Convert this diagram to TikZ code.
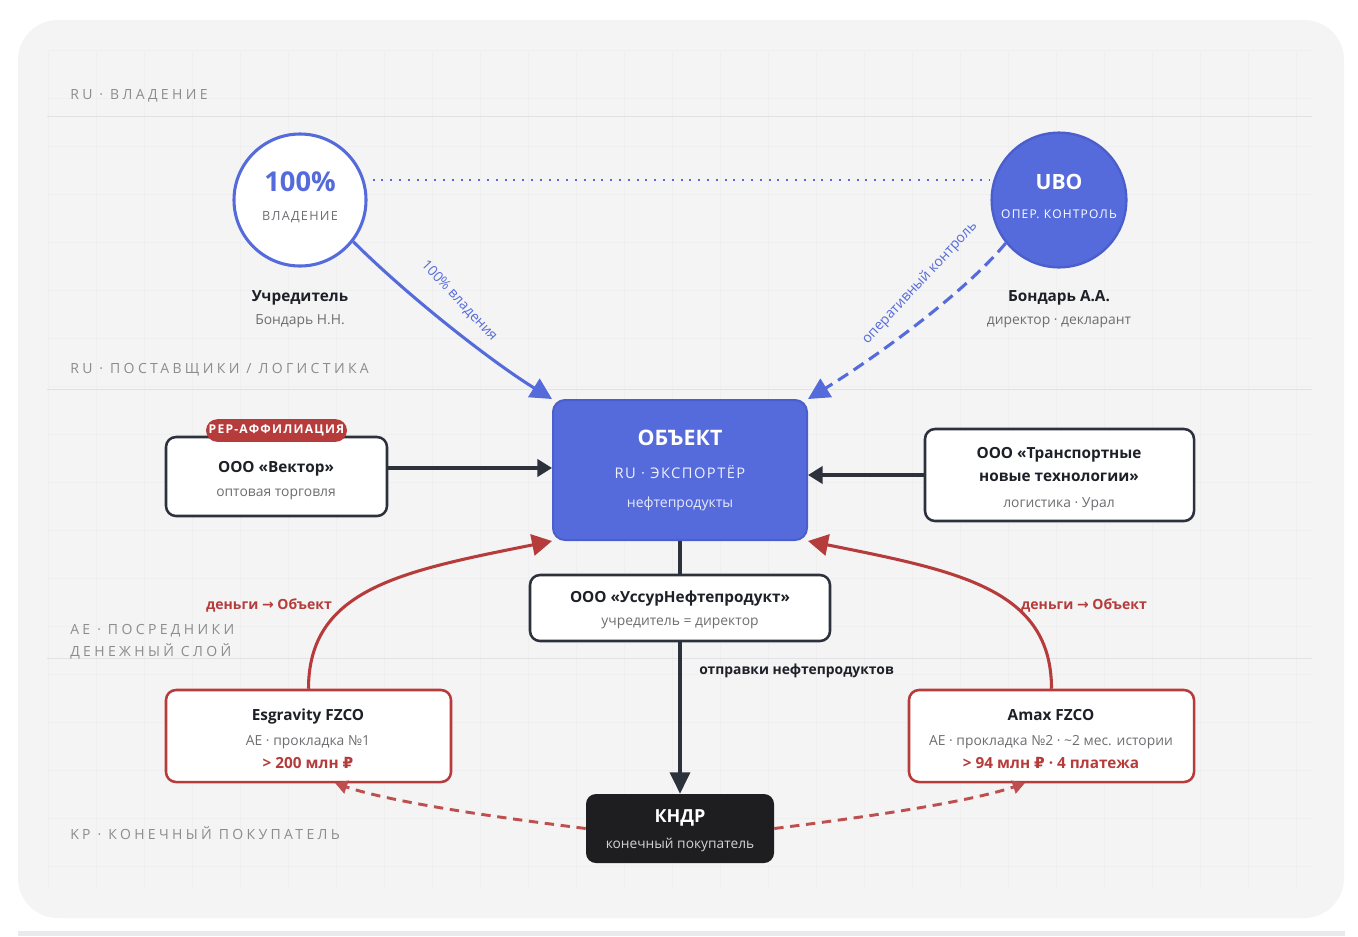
\documentclass[tikz,border=0pt]{standalone}
\usepackage{fontspec}
\setmainfont{Open Sans}
\newfontfamily\spacedfont[LetterSpace=10]{Open Sans}
\newfontfamily\lanefont[LetterSpace=24]{Open Sans}
\newfontfamily\symfont{DejaVu Sans}
\usetikzlibrary{arrows.meta,fit,positioning}

\definecolor{bgpanel}{HTML}{F4F4F4}
\definecolor{gridline}{HTML}{EFEFEF}
\definecolor{stripgray}{HTML}{EAEAEE}
\definecolor{laneline}{HTML}{E2E2E6}
\definecolor{lanetext}{HTML}{8C8C8C}
\definecolor{ownblue}{HTML}{566BDB}
\definecolor{ownblueedge}{HTML}{4A5ECC}
\definecolor{inkdark}{HTML}{1E2027}
\definecolor{edgedark}{HTML}{2C313C}
\definecolor{subgray}{HTML}{6E6E72}
\definecolor{moneyred}{HTML}{B63B3B}
\definecolor{buyerblack}{HTML}{1E1E21}

\newcommand\rub{{\symfont ₽}}

\begin{document}
\begin{tikzpicture}[
  x=0.75pt, y=-0.75pt,
  every node/.style={inner sep=0pt},
  lane/.style={font=\lanefont\fontsize{10.5}{12}\selectfont, text=lanetext, anchor=mid west},
  title/.style={font=\bfseries\fontsize{11.5}{14}\selectfont, text=inkdark, anchor=mid},
  sub/.style={font=\fontsize{10.4}{12}\selectfont, text=subgray, anchor=mid},
  plainbox/.style={draw=edgedark, fill=white, line width=1.9pt, rounded corners=7.5pt},
  moneybox/.style={draw=moneyred, fill=white, line width=1.9pt, rounded corners=7.5pt},
  ownarrow/.style={-{Triangle[length=16pt,width=16pt]}, ownblue, line width=2.3pt},
  flowarrow/.style={-{Triangle[length=11pt,width=13pt]}, edgedark, line width=2.3pt},
  moneyarrow/.style={-{Triangle[length=15pt,width=16pt]}, moneyred, line width=2.3pt},
  backarrow/.style={-{Triangle[length=9pt,width=10pt]}, moneyred!90!white, line width=2.2pt, dash pattern=on 7pt off 5pt},
]
\useasboundingbox (0,0) rectangle (1358,936);
\fill[white] (0,0) rectangle (1358,936);

% panel, faint grid and lanes
\fill[bgpanel, rounded corners=30pt] (18,20) rectangle (1344,918);
\fill[stripgray] (18,931) rectangle (1345,936);
\foreach \gx in {48,96,...,1296} \draw[gridline, line width=0.5pt] (\gx,50) -- (\gx,888);
\foreach \gy in {50,98,...,866} \draw[gridline, line width=0.5pt] (48,\gy) -- (1312,\gy);
\foreach \ly in {116,389,658} \draw[laneline, line width=0.7pt] (47,\ly) -- (1312,\ly);

\node[lane] (lane-own) at (70,96) {RU · ВЛАДЕНИЕ};
\node[lane] (lane-sup) at (70,370) {RU · ПОСТАВЩИКИ / ЛОГИСТИКА};
\node[lane] (lane-mid) at (70,631) {AE · ПОСРЕДНИКИ};
\node[lane] (lane-mid2) at (70,653) {ДЕНЕЖНЫЙ СЛОЙ};
\node[lane] (lane-buy) at (70,836) {KP · КОНЕЧНЫЙ ПОКУПАТЕЛЬ};

% owners
\node[circle, draw=ownblue, fill=white, line width=2.3pt, minimum size=99pt] (founder) at (300,200) {};
\node[font=\bfseries\fontsize{20.5}{24}\selectfont, text=ownblue, anchor=mid] (founder-pct) at (300,188) {100\%};
\node[font=\spacedfont\fontsize{9.5}{11}\selectfont, text=subgray, anchor=mid] (founder-kind) at (300,217) {ВЛАДЕНИЕ};
\node[title] (founder-t) at (300,298) {Учредитель};
\node[sub] (founder-s) at (300,321) {Бондарь Н.Н.};

\node[circle, draw=ownblueedge, fill=ownblue, line width=1.8pt, minimum size=101pt] (ubo) at (1059,200) {};
\node[font=\bfseries\fontsize{15.8}{18}\selectfont, text=white, anchor=mid] (ubo-t) at (1059,186) {UBO};
\node[font=\spacedfont\fontsize{9}{11}\selectfont, text=white, anchor=mid] (ubo-kind) at (1059,215) {ОПЕР. КОНТРОЛЬ};
\node[title] (director-t) at (1059,298) {Бондарь А.А.};
\node[sub] (director-s) at (1059,321) {директор · декларант};

% object
\node[draw=ownblueedge, fill=ownblue, line width=1.5pt, rounded corners=9pt, fit={(553,400) (807,540)}] (object) {};
\node[font=\bfseries\fontsize{16}{18}\selectfont, text=white, anchor=mid] (object-t) at (680,442) {ОБЪЕКТ};
\node[font=\spacedfont\fontsize{11}{12}\selectfont, text=white!90!ownblue, anchor=mid] (object-c) at (680,475) {RU · ЭКСПОРТЁР};
\node[font=\fontsize{10.5}{12}\selectfont, text=white!85!ownblue, anchor=mid] (object-s) at (680,504) {нефтепродукты};

% suppliers
\node[plainbox, fit={(166,437) (387,516)}] (vektor) {};
\node[title] (vektor-t) at (276,469) {ООО «Вектор»};
\node[sub] (vektor-s) at (276,493) {оптовая торговля};
\node[fill=moneyred, text=white, rounded corners=8.5pt, minimum height=17pt, inner xsep=2pt,
  font=\spacedfont\bfseries\fontsize{9.1}{10}\selectfont] (affil) at (276.5,430.5) {РЕР-АФФИЛИАЦИЯ};

\node[plainbox, fit={(925,429) (1194,521)}] (transport) {};
\node[title] (transport-t1) at (1059,455) {ООО «Транспортные};
\node[title] (transport-t2) at (1059,478) {новые технологии»};
\node[sub] (transport-s) at (1059,504) {логистика · Урал};

\node[plainbox, fit={(530,575) (830,641)}] (ussur) {};
\node[title] (ussur-t) at (680,599) {ООО «УссурНефтепродукт»};
\node[sub] (ussur-s) at (680,622) {учредитель = директор};

% intermediaries
\node[moneybox, fit={(166,690) (451,782)}] (esgravity) {};
\node[title] (esgravity-t) at (308,717) {Esgravity FZCO};
\node[sub] (esgravity-s) at (308,742) {AE · прокладка №1};
\node[title, text=moneyred] (esgravity-m) at (308,765) {> 200 млн \rub};

\node[moneybox, fit={(909,690) (1194,782)}] (amax) {};
\node[title] (amax-t) at (1051,717) {Amax FZCO};
\node[sub] (amax-s) at (1051,742) {AE · прокладка №2 · \textasciitilde 2 мес. истории};
\node[title, text=moneyred] (amax-m) at (1051,765) {> 94 млн \rub{} · 4 платежа};

% buyer
\node[fill=buyerblack, rounded corners=7.5pt, fit={(586,794) (774,863)}] (kndr) {};
\node[font=\bfseries\fontsize{13.5}{16}\selectfont, text=white, anchor=mid] (kndr-t) at (680,819) {КНДР};
\node[font=\fontsize{10.3}{12}\selectfont, text=white!80!buyerblack, anchor=mid] (kndr-s) at (680,845) {конечный покупатель};

% ownership links
\draw[ownblue, line width=1.6pt, dash pattern=on 1.6pt off 5pt] (founder.east |- 0,180) ++(5,0) coordinate (dot-a) -- (dot-a -| ubo.west);
\draw[ownarrow] (founder.-38) .. controls +(55,55) and +(-60,-37) .. (object.north west);
\node[font=\fontsize{10.5}{12}\selectfont, text=ownblue, rotate=-47, anchor=mid] (own-lbl) at (459,301) {100\% владения};
\draw[ownarrow, dash pattern=on 9pt off 5pt] (ubo.-141) .. controls +(-45,54) and +(60,-37) .. (object.north east);
\node[font=\fontsize{10.5}{12}\selectfont, text=ownblue, rotate=47, anchor=mid] (ctrl-lbl) at (920,283) {оперативный контроль};

% supply flows
\draw[flowarrow] ([yshift=6.4pt]vektor.east) -- ([yshift=6.4pt]vektor.east -| object.west);
\draw[flowarrow] (transport.west) -- (transport.west -| object.east);
\draw[edgedark, line width=2.3pt] (object.south) -- (ussur.north);
\draw[flowarrow, -{Triangle[length=16pt,width=15pt]}] (ussur.south) -- (kndr.north);
\node[font=\bfseries\fontsize{10.4}{12}\selectfont, text=inkdark, anchor=mid west] (ship-lbl) at (699,671) {отправки нефтепродуктов};

% money flows
\draw[moneyarrow] (esgravity.north) .. controls +(0,-100) and +(-150,30) .. (object.south west);
\draw[moneyarrow] (amax.north) .. controls +(0,-100) and +(150,30) .. (object.south east);
\node[title, text=moneyred, font=\bfseries\fontsize{10.5}{12}\selectfont] (money-l) at (269,606) {деньги {\symfont →} Объект};
\node[title, text=moneyred, font=\bfseries\fontsize{10.5}{12}\selectfont] (money-r) at (1084,606) {деньги {\symfont →} Объект};
\draw[backarrow] (kndr.west) .. controls +(-80,-10) and +(60,20) .. ([xshift=20pt]esgravity.south);
\draw[backarrow] (kndr.east) .. controls +(80,-10) and +(-60,20) .. ([xshift=-20pt]amax.south);

\end{tikzpicture}
\end{document}
